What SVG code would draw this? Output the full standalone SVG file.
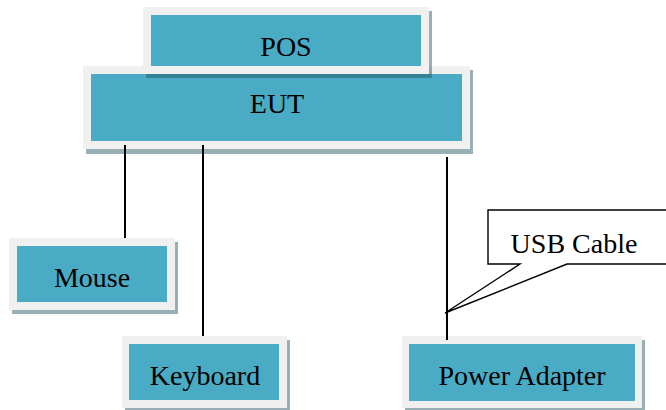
<svg xmlns="http://www.w3.org/2000/svg" width="666" height="410" viewBox="0 0 666 410">
<style>
.frame{fill:#f0f0f0}
.shadow{fill:#1d4d5e;fill-opacity:0.45}
.face{fill:#4aabc5}
.lbl{font-family:"Liberation Serif","Times New Roman",serif;font-size:28px;fill:#000;text-anchor:middle}
.wire{stroke:#000;stroke-width:2;fill:none}
</style>
<rect width="666" height="410" fill="#fff"/>
<g id="EUT">
<rect class="shadow" x="86" y="70" width="387" height="84"/>
<rect class="frame" x="83" y="66" width="387" height="83"/>
<rect class="face" x="91" y="74" width="371" height="67"/>
<text class="lbl" x="277" y="113">EUT</text>
</g>
<g id="POS">
<rect class="shadow" x="146" y="11" width="286" height="67"/>
<rect class="frame" x="143" y="7" width="286" height="67"/>
<rect class="face" x="151" y="15" width="270" height="51"/>
<text class="lbl" x="286" y="56">POS</text>
</g>
<g id="Mouse">
<rect class="shadow" x="12" y="242" width="166" height="72"/>
<rect class="frame" x="9" y="238" width="166" height="72"/>
<rect class="face" x="17" y="246" width="150" height="56"/>
<text class="lbl" x="92" y="287">Mouse</text>
</g>
<g id="Keyboard">
<rect class="shadow" x="125" y="340" width="165" height="72"/>
<rect class="frame" x="122" y="336" width="165" height="72"/>
<rect class="face" x="129" y="344" width="150" height="56"/>
<text class="lbl" x="205" y="385">Keyboard</text>
</g>
<g id="PowerAdapter">
<rect class="shadow" x="405" y="340" width="240" height="72"/>
<rect class="frame" x="402" y="336" width="240" height="72"/>
<rect class="face" x="409" y="344" width="226" height="57"/>
<text class="lbl" x="522" y="385">Power Adapter</text>
</g>
<g id="connectors">
<line class="wire" x1="125" y1="145" x2="125" y2="238"/>
<line class="wire" x1="203" y1="145" x2="203" y2="336"/>
<line class="wire" x1="447" y1="157" x2="447" y2="340"/>
</g>
<g id="USBCable">
<path d="M680 210 H488 V264 H520 L445 313 L567 264 H680" fill="#fff" stroke="#000" stroke-width="1.4"/>
<text class="lbl" x="574" y="253">USB Cable</text>
</g>
</svg>
